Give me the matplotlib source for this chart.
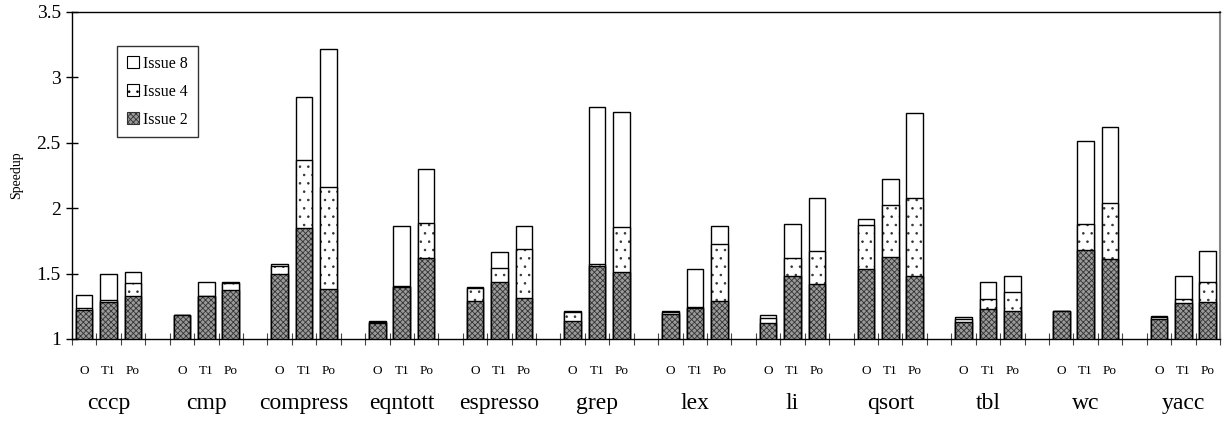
import matplotlib
matplotlib.use("Agg")
import matplotlib.pyplot as plt
from matplotlib.patches import Patch
import numpy as np

benchmarks = ["cccp", "cmp", "compress", "eqntott", "espresso", "grep",
              "lex", "li", "qsort", "tbl", "wc", "yacc"]
configs = ["O", "T1", "Po"]

# speedup values, per benchmark: [O, T1, Po]
issue2 = [[1.22, 1.28, 1.325], [1.183, 1.325, 1.375], [1.50, 1.85, 1.385],
          [1.125, 1.40, 1.617], [1.293, 1.433, 1.316], [1.14, 1.555, 1.512],
          [1.19, 1.235, 1.293], [1.12, 1.48, 1.42], [1.533, 1.625, 1.482],
          [1.132, 1.232, 1.216], [1.214, 1.68, 1.61], [1.15, 1.273, 1.285]]
issue4 = [[1.24, 1.30, 1.426], [1.183, 1.33, 1.43], [1.555, 2.368, 2.16],
          [1.13, 1.405, 1.884], [1.39, 1.54, 1.686], [1.21, 1.57, 1.854],
          [1.205, 1.245, 1.724], [1.16, 1.62, 1.67], [1.874, 2.022, 2.08],
          [1.155, 1.303, 1.357], [1.214, 1.88, 2.04], [1.165, 1.303, 1.433]]
issue8 = [[1.336, 1.495, 1.512], [1.183, 1.433, 1.435], [1.571, 2.847, 3.215],
          [1.135, 1.864, 2.297], [1.397, 1.663, 1.862], [1.212, 2.776, 2.738],
          [1.212, 1.533, 1.866], [1.18, 1.88, 2.08], [1.915, 2.221, 2.73],
          [1.166, 1.433, 1.482], [1.214, 2.51, 2.62], [1.176, 1.484, 1.67]]

plt.rcParams['font.family'] = ['Liberation Serif', 'DejaVu Serif']
plt.rcParams['hatch.linewidth'] = 0.6

fig = plt.figure(figsize=(12.28, 4.21), dpi=100)
ax = fig.add_axes([0.0586, 0.1948, 0.9349, 0.7767])

n_groups = len(benchmarks)
n_cfg = len(configs)
pos = []
for g in range(n_groups):
    for i in range(n_cfg):
        pos.append(g * (n_cfg + 1) + i + 0.5)
pos = np.array(pos)
v2 = np.array(issue2).ravel()
v4 = np.array(issue4).ravel()
v8 = np.array(issue8).ravel()
w = 0.68
base = 1.0
dark_face = '#9a9a9a'
dark_hatch = '#333333'

# Issue 8 (white)
ax.bar(pos, v8 - base, bottom=base, width=w, facecolor='white',
       edgecolor='black', linewidth=1.0, zorder=2)
# Issue 4 (dotted)
ax.bar(pos, v4 - base, bottom=base, width=w, facecolor='white',
       edgecolor='#333333', hatch='..', linewidth=0, zorder=3)
ax.bar(pos, v4 - base, bottom=base, width=w, fill=False,
       edgecolor='black', linewidth=1.0, zorder=3.1)
# Issue 2 (dark crosshatch)
ax.bar(pos, v2 - base, bottom=base, width=w, facecolor=dark_face,
       edgecolor=dark_hatch, hatch='xxxxxx', linewidth=0, zorder=4)
ax.bar(pos, v2 - base, bottom=base, width=w, fill=False,
       edgecolor='black', linewidth=1.0, zorder=4.1)

total_slots = n_groups * (n_cfg + 1) - 1
ax.set_xlim(0, total_slots)
ax.set_ylim(1, 3.5)
yt = np.arange(1, 3.51, 0.5)
ax.set_yticks(yt)
ax.set_yticklabels(["%g" % t for t in yt], fontsize=14)
ax.tick_params(axis='y', direction='inout', length=8, width=1, pad=4)

ax.set_xticks(np.arange(0, total_slots + 1))
ax.set_xticklabels([])
ax.tick_params(axis='x', which='major', direction='inout', length=8, width=0.8,
               color='#444444')
ax.set_xticks(pos, minor=True)
ax.set_xticklabels(configs * n_groups, minor=True, fontsize=9.5)
ax.tick_params(axis='x', which='minor', length=0, pad=19)

for g, name in enumerate(benchmarks):
    cx = g * (n_cfg + 1) + (n_cfg) / 2.0
    ax.text(cx, -0.196, name, transform=ax.get_xaxis_transform(),
            ha='center', va='center', fontsize=17)

ax.set_ylabel("Speedup", fontsize=10, labelpad=10)

for s in ['left', 'bottom', 'top']:
    ax.spines[s].set_linewidth(1.0)
    ax.spines[s].set_color('black')
ax.spines['right'].set_color('#888888')
ax.spines['right'].set_linewidth(1.5)

handles = [
    Patch(facecolor='white', edgecolor='black', linewidth=0.8, label='Issue 8'),
    Patch(facecolor='white', edgecolor='black', hatch='..', linewidth=0.8, label='Issue 4'),
    Patch(facecolor=dark_face, edgecolor=dark_hatch, hatch='xxxxxx', linewidth=0.8, label='Issue 2'),
]
leg = ax.legend(handles=handles, loc='upper left', bbox_to_anchor=(0.0392, 0.896),
                fontsize=11.5, frameon=True, fancybox=False, edgecolor='black',
                handlelength=0.75, handleheight=0.75, handletextpad=0.3,
                labelspacing=0.75, borderpad=0.6, borderaxespad=0)
leg.get_frame().set_linewidth(1.0)

fig.savefig("out.png", dpi=100)
